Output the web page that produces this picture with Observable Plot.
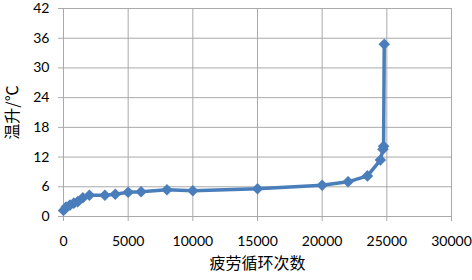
<!DOCTYPE html>
<html>
<head>
<meta charset="utf-8">
<script src="https://cdn.jsdelivr.net/npm/d3@7"></script>
<script src="https://cdn.jsdelivr.net/npm/@observablehq/plot@0.6"></script>
<style>
  html, body { margin: 0; padding: 0; background: #fff; }
  #chart svg { display: block; }
</style>
</head>
<body>
<div id="chart"></div>
<script>
const cycles = [0, 200, 500, 800, 1100, 1500, 2000, 3200, 4000, 5000, 6000, 8000, 10000, 15000, 20000, 22000, 23500, 24500, 24700, 24750, 24800];
const tempRise = [1.2, 1.9, 2.3, 2.7, 3.0, 3.8, 4.3, 4.3, 4.5, 4.9, 5.0, 5.4, 5.2, 5.6, 6.3, 7.0, 8.2, 11.4, 13.6, 14.2, 34.8];
const xTicks = [0, 5000, 10000, 15000, 20000, 25000, 30000];
const yTicks = [0, 6, 12, 18, 24, 30, 36, 42];
const xTitle = "疲劳循环次数";
const yTitle = "温升/℃";

const data = cycles.map((c, i) => ({c, t: tempRise[i]}));
const blue = "#4a7ebb";
const grid = "#a9a9a9";

const chart = Plot.plot({
  width: 472,
  height: 280,
  marginLeft: 63,
  marginRight: 21,
  marginTop: 8,
  marginBottom: 64,
  style: {fontFamily: "Lato, 'Open Sans', sans-serif", fontSize: "14px", color: "#000", background: "#fff", overflow: "visible"},
  x: {domain: [0, 30000], ticks: xTicks},
  y: {domain: [0, 42], ticks: yTicks},
  marks: [
    Plot.ruleX(xTicks, {stroke: grid, strokeWidth: 1}),
    Plot.ruleY(yTicks, {stroke: grid, strokeWidth: 1}),
    Plot.axisX(xTicks, {tickSize: 5, tickPadding: 15, stroke: grid, tickFormat: d => String(d), fontSize: 14,
      label: xTitle, labelAnchor: "center", labelOffset: 52, labelArrow: "none"}),
    Plot.axisY(yTicks, {tickSize: 5, tickPadding: 9, stroke: grid, fontSize: 14,
      label: yTitle, labelAnchor: "center", labelOffset: 57, labelArrow: "none"}),
    Plot.line(data, {x: "c", y: "t", stroke: blue, strokeWidth: 3.5}),
    Plot.dot(data, {x: "c", y: "t", symbol: "diamond2", r: 5.2, fill: blue, stroke: "none"})
  ]
});
document.getElementById("chart").appendChild(chart);
chart.querySelectorAll("g[aria-label='x-axis label'] text, g[aria-label='y-axis label'] text").forEach(t => {
  t.style.fontFamily = "'Noto Sans CJK SC', sans-serif";
  t.style.fontSize = "16px";
});
</script>
</body>
</html>
